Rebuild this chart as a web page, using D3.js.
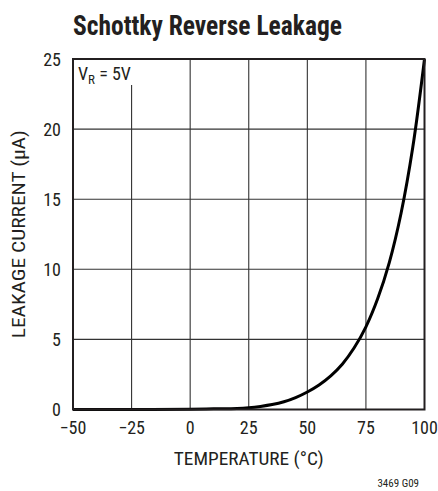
<!DOCTYPE html>
<html><head><meta charset="utf-8">
<script src="https://cdn.jsdelivr.net/npm/d3@7"></script>
<style>
body{margin:0;background:#fff;}
svg text{font-family:"Liberation Sans Narrow","Roboto Condensed","DejaVu Sans Condensed","Roboto",sans-serif;font-stretch:condensed;fill:#231f20;}
</style></head>
<body>
<svg id="c" width="438" height="491"></svg>
<script>
const temps = [-50,-25,0,10,20,25,30,35,40,45,50,55,60,65,70,75,80,85,90,95,100];
const leakage = [0.0,0.0,0.02,0.05,0.08,0.13,0.22,0.35,0.55,0.85,1.25,1.75,2.4,3.25,4.4,5.9,7.9,10.5,14.0,18.7,25.0];
const xTicks = [-50,-25,0,25,50,75,100];
const yTicks = [0,5,10,15,20,25];

const svg = d3.select("#c");
const L=73,R=424.5,T=59,B=409.5;
const x = d3.scaleLinear().domain([-50,100]).range([L,R]);
const y = d3.scaleLinear().domain([0,25]).range([B,T]);

// grid
svg.append("g").selectAll("line").data(xTicks.slice(1,-1)).join("line")
  .attr("x1",d=>x(d)).attr("x2",d=>x(d)).attr("y1",d=>d===-25?85:T).attr("y2",B)
  .attr("stroke","#333").attr("stroke-width",1.1);
svg.append("g").selectAll("line").data(yTicks.slice(1,-1)).join("line")
  .attr("y1",d=>y(d)).attr("y2",d=>y(d)).attr("x1",L).attr("x2",R)
  .attr("stroke","#333").attr("stroke-width",1.1);

// curve
const line = d3.line().x((d,i)=>x(temps[i])).y(d=>y(d)).curve(d3.curveCatmullRom);
svg.append("path").datum(leakage).attr("d",line).attr("fill","none")
  .attr("stroke","#000").attr("stroke-width",3);

// frame
svg.append("rect").attr("x",L).attr("y",T).attr("width",R-L).attr("height",B-T)
  .attr("fill","none").attr("stroke","#231f20").attr("stroke-width",2);

// tick labels
svg.append("g").selectAll("text").data(yTicks).join("text")
  .attr("x",61).attr("y",d=>y(d)+6.5).attr("text-anchor","end").attr("font-size",18)
  .text(d=>d);
svg.append("g").selectAll("text").data(xTicks).join("text")
  .attr("x",d=>x(d)).attr("y",434).attr("text-anchor","middle").attr("font-size",18)
  .text(d=>d<0?"\u2212"+Math.abs(d):d);

// titles
svg.append("text").attr("x",L).attr("y",35).attr("font-size",28).attr("font-weight","bold")
  .attr("textLength",269).attr("lengthAdjust","spacingAndGlyphs")
  .text("Schottky Reverse Leakage");
svg.append("text").attr("x",(L+R)/2 - 75).attr("y",465).attr("font-size",18)
  .attr("textLength",150).attr("lengthAdjust","spacingAndGlyphs")
  .text("TEMPERATURE (°C)");
svg.append("text").attr("transform",`translate(25,${(T+B)/2 + 104}) rotate(-90)`).attr("font-size",18)
  .attr("textLength",208).attr("lengthAdjust","spacingAndGlyphs")
  .text("LEAKAGE CURRENT (μA)");
svg.append("text").attr("x",419).attr("y",487).attr("text-anchor","end").attr("font-size",11)
  .text("3469 G09");

// annotation
const a = svg.append("text").attr("x",78).attr("y",80).attr("font-size",18);
a.append("tspan").text("V");
a.append("tspan").attr("font-size",13).attr("dy",4).text("R");
a.append("tspan").attr("dy",-4).text(" = 5V");
</script>
</body></html>
